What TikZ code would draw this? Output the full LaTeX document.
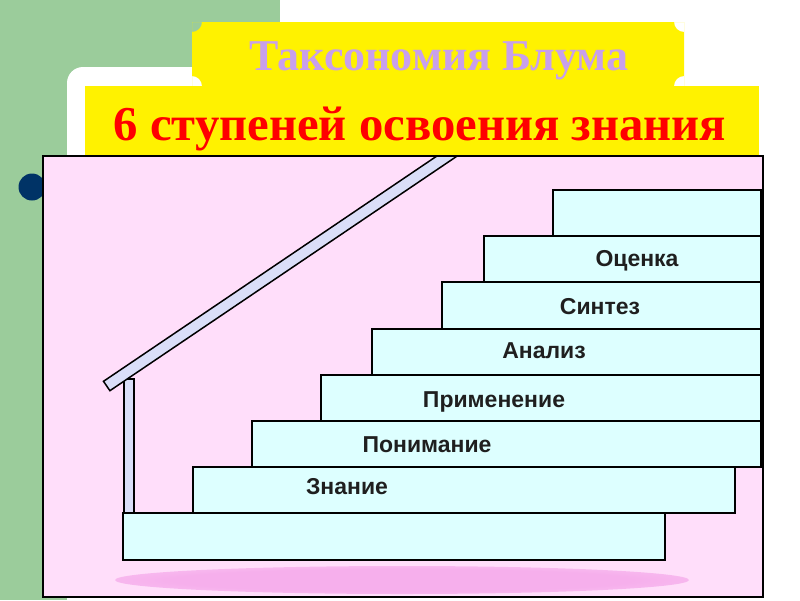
\documentclass[tikz,border=0pt]{standalone}
\usepackage{fontspec}
\setmainfont{Liberation Serif}
\newfontfamily\labelfont{Liberation Sans}
\definecolor{bggreen}{RGB}{155,204,155}
\definecolor{navyblue}{RGB}{0,51,102}
\definecolor{lilac}{RGB}{200,160,235}
\definecolor{panelpink}{RGB}{255,222,250}
\definecolor{glowpink}{RGB}{246,175,236}
\definecolor{stepfill}{RGB}{221,255,255}
\definecolor{railfill}{RGB}{218,222,248}
\pgfdeclareradialshading{glow}{\pgfpoint{0bp}{0bp}}{color(0bp)=(glowpink); color(20bp)=(glowpink); color(50bp)=(panelpink)}
\tikzset{
  stepbox/.style={fill=stepfill, draw=black, line width=1.6pt},
  steplabel/.style={font=\labelfont\bfseries\fontsize{23}{23}\selectfont, text=black!88, anchor=base, inner sep=0pt},
  barpart/.style={fill=railfill, draw=black, line width=1.5pt}
}
\begin{document}
\begin{tikzpicture}[x=1pt,y=-1pt]
\useasboundingbox (0,0) rectangle (800,600);
\fill[white] (0,0) rectangle (800,600);
\fill[bggreen] (0,0) rectangle (280,600);
\fill[white, rounded corners=16pt] (67,67) rectangle (830,640);
% bullet
\fill[navyblue] (32,187) circle (13.5);
% title plaque
\begin{scope}
  \clip (192,22) rectangle (684,86);
  \fill[yellow, even odd rule] (192,22) rectangle (684,86)
     (192,22) circle (10) (684,22) circle (10) (192,86) circle (10) (684,86) circle (10);
\end{scope}
\fill[yellow] (85,86) rectangle (759,156);
\node[font=\bfseries\fontsize{44}{44}\selectfont, text=lilac, anchor=base, inner sep=0pt] (title) at (439,70) {Таксономия Блума};
\node[font=\bfseries\fontsize{48.7}{48.7}\selectfont, text=red, anchor=base, inner sep=0pt] (subtitle) at (420,140) {6 ступеней освоения знания};
% panel
\fill[panelpink] (43,156) rectangle (763,597);
\shade[shading=glow] (402,580) ellipse (287 and 14);
% post and rail
\filldraw[barpart] (124,379) rectangle (134,513);
\begin{scope}
  \clip (43,157) rectangle (763,597);
  \filldraw[barpart] (103.5,381.3) -- (109.9,390.7) -- (482.8,138.7) -- (476.4,129.3) -- cycle;
\end{scope}
% steps
\draw[stepbox] (123,513) rectangle (665,560);
\draw[stepbox] (193,467) rectangle (735,513);
\draw[stepbox] (252,421) rectangle (761,467);
\draw[stepbox] (321,375) rectangle (761,421);
\draw[stepbox] (372,329) rectangle (761,375);
\draw[stepbox] (442,282) rectangle (761,329);
\draw[stepbox] (484,236) rectangle (761,282);
\draw[stepbox] (553,190) rectangle (761,236);
% labels
\node[steplabel] (znanie) at (347,494) {Знание};
\node[steplabel] (ponim) at (427,452) {Понимание};
\node[steplabel] (prim) at (494,407) {Применение};
\node[steplabel] (analiz) at (544,358) {Анализ};
\node[steplabel] (sintez) at (600,314) {Синтез};
\node[steplabel] (ocenka) at (637,266) {Оценка};
% panel border
\draw[black, line width=2.5pt] (43,156) rectangle (763,597);
\end{tikzpicture}
\end{document}
